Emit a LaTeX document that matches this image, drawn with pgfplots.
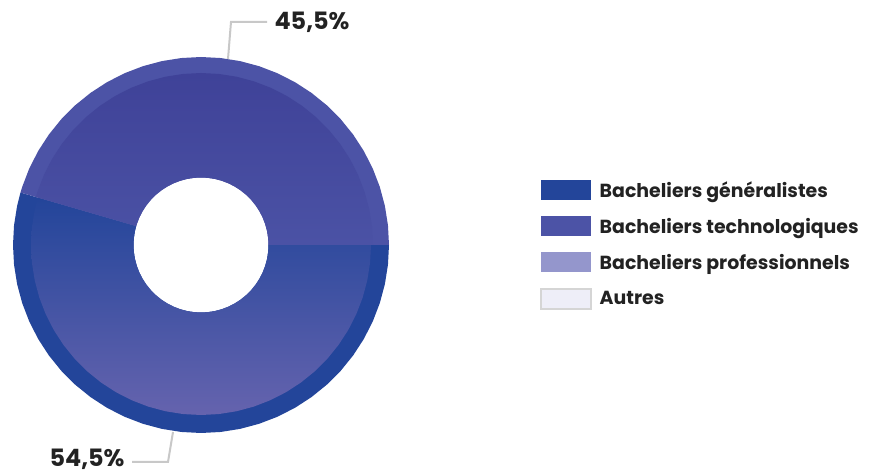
\documentclass[border=0pt]{standalone}
\usepackage{fontspec}
\setmainfont{Poppins}
\usepackage{pgfplots}
\pgfplotsset{compat=1.18}
\definecolor{cgen}{HTML}{23459A}
\definecolor{ctec}{HTML}{4C53A6}
\definecolor{cpro}{HTML}{9496CC}
\definecolor{caut}{HTML}{EEEEF8}
\definecolor{cautb}{HTML}{D5D5D5}
\definecolor{cline}{HTML}{C8C8C8}
\definecolor{ctxt}{HTML}{222222}
\begin{document}
\begin{tikzpicture}
\begin{axis}[
  width=883bp, height=476bp, scale only axis,
  xmin=-201, xmax=682, ymin=-231, ymax=245,
  hide axis, clip=false,
  legend cell align=left,
  legend image code/.code={\path[#1] (0bp,-10bp) rectangle (50bp,10bp);},
  legend style={at={(axis cs:339,65)}, anchor=north west, draw=none, fill=none,
    inner sep=0pt, row sep=16bp,
    font=\bfseries\fontsize{19}{22}\selectfont\color{ctxt},
    /tikz/every odd column/.style={column sep=8bp},
    nodes={inner sep=0pt}},
]
% Bacheliers généralistes : 54,5 % (163.8 -> 360 deg)
\addplot[fill=cgen, draw=none, data cs=polar] coordinates {
(163.8,188)(168,188)(174,188)(180,188)(186,188)(192,188)(198,188)(204,188)(210,188)(216,188)(222,188)(228,188)(234,188)(240,188)(246,188)(252,188)(258,188)(264,188)(270,188)(276,188)(282,188)(288,188)(294,188)(300,188)(306,188)(312,188)(318,188)(324,188)(330,188)(336,188)(342,188)(348,188)(354,188)(360,188)
(360,67.5)(354,67.5)(348,67.5)(342,67.5)(336,67.5)(330,67.5)(324,67.5)(318,67.5)(312,67.5)(306,67.5)(300,67.5)(294,67.5)(288,67.5)(282,67.5)(276,67.5)(270,67.5)(264,67.5)(258,67.5)(252,67.5)(246,67.5)(240,67.5)(234,67.5)(228,67.5)(222,67.5)(216,67.5)(210,67.5)(204,67.5)(198,67.5)(192,67.5)(186,67.5)(180,67.5)(174,67.5)(168,67.5)(163.8,67.5)
} -- cycle;
\addlegendentry{Bacheliers généralistes}
% Bacheliers technologiques : 45,5 % (0 -> 163.8 deg)
\addplot[fill=ctec, draw=none, data cs=polar] coordinates {
(0,188)(6,188)(12,188)(18,188)(24,188)(30,188)(36,188)(42,188)(48,188)(54,188)(60,188)(66,188)(72,188)(78,188)(84,188)(90,188)(96,188)(102,188)(108,188)(114,188)(120,188)(126,188)(132,188)(138,188)(144,188)(150,188)(156,188)(162,188)(163.8,188)
(163.8,67.5)(162,67.5)(156,67.5)(150,67.5)(144,67.5)(138,67.5)(132,67.5)(126,67.5)(120,67.5)(114,67.5)(108,67.5)(102,67.5)(96,67.5)(90,67.5)(84,67.5)(78,67.5)(72,67.5)(66,67.5)(60,67.5)(54,67.5)(48,67.5)(42,67.5)(36,67.5)(30,67.5)(24,67.5)(18,67.5)(12,67.5)(6,67.5)(0,67.5)
} -- cycle;
\addlegendentry{Bacheliers technologiques}
\addlegendimage{fill=cpro, draw=none}
\addlegendentry{Bacheliers professionnels}
\addlegendimage{fill=caut, draw=cautb, line width=1.5bp}
\addlegendentry{Autres}
% gloss overlays (interior of each ring segment)
\addplot[forget plot, draw=none, top color=cgen, middle color=cgen, bottom color={rgb,255:red,101;green,99;blue,174}, data cs=polar] coordinates {
(163.8,170)(168,170)(174,170)(180,170)(186,170)(192,170)(198,170)(204,170)(210,170)(216,170)(222,170)(228,170)(234,170)(240,170)(246,170)(252,170)(258,170)(264,170)(270,170)(276,170)(282,170)(288,170)(294,170)(300,170)(306,170)(312,170)(318,170)(324,170)(330,170)(336,170)(342,170)(348,170)(354,170)(360,170)
(360,67.5)(354,67.5)(348,67.5)(342,67.5)(336,67.5)(330,67.5)(324,67.5)(318,67.5)(312,67.5)(306,67.5)(300,67.5)(294,67.5)(288,67.5)(282,67.5)(276,67.5)(270,67.5)(264,67.5)(258,67.5)(252,67.5)(246,67.5)(240,67.5)(234,67.5)(228,67.5)(222,67.5)(216,67.5)(210,67.5)(204,67.5)(198,67.5)(192,67.5)(186,67.5)(180,67.5)(174,67.5)(168,67.5)(163.8,67.5)
} -- cycle;
\addplot[forget plot, draw=none, top color={rgb,255:red,63;green,66;blue,152}, bottom color={rgb,255:red,75;green,82;blue,165}, data cs=polar] coordinates {
(0,172)(6,172)(12,172)(18,172)(24,172)(30,172)(36,172)(42,172)(48,172)(54,172)(60,172)(66,172)(72,172)(78,172)(84,172)(90,172)(96,172)(102,172)(108,172)(114,172)(120,172)(126,172)(132,172)(138,172)(144,172)(150,172)(156,172)(162,172)(163.8,172)
(163.8,67.5)(162,67.5)(156,67.5)(150,67.5)(144,67.5)(138,67.5)(132,67.5)(126,67.5)(120,67.5)(114,67.5)(108,67.5)(102,67.5)(96,67.5)(90,67.5)(84,67.5)(78,67.5)(72,67.5)(66,67.5)(60,67.5)(54,67.5)(48,67.5)(42,67.5)(36,67.5)(30,67.5)(24,67.5)(18,67.5)(12,67.5)(6,67.5)(0,67.5)
} -- cycle;
% leader lines
\addplot[forget plot, cline, line width=2bp] coordinates {(27,186)(30,223)(66,223)};
\addplot[forget plot, cline, line width=2bp] coordinates {(-28,-187)(-33,-217)(-69,-217)};
% frame of the picture (invisible)
\addplot[forget plot, draw=none] coordinates {(-201,-231)(682,245)};
\node[anchor=west, text=ctxt, font=\bfseries\fontsize{24}{28}\selectfont] at (axis cs:70,223) {45,5\%};
\node[anchor=east, text=ctxt, font=\bfseries\fontsize{24}{28}\selectfont] at (axis cs:-73,-214) {54,5\%};
\end{axis}
\end{tikzpicture}
\end{document}
